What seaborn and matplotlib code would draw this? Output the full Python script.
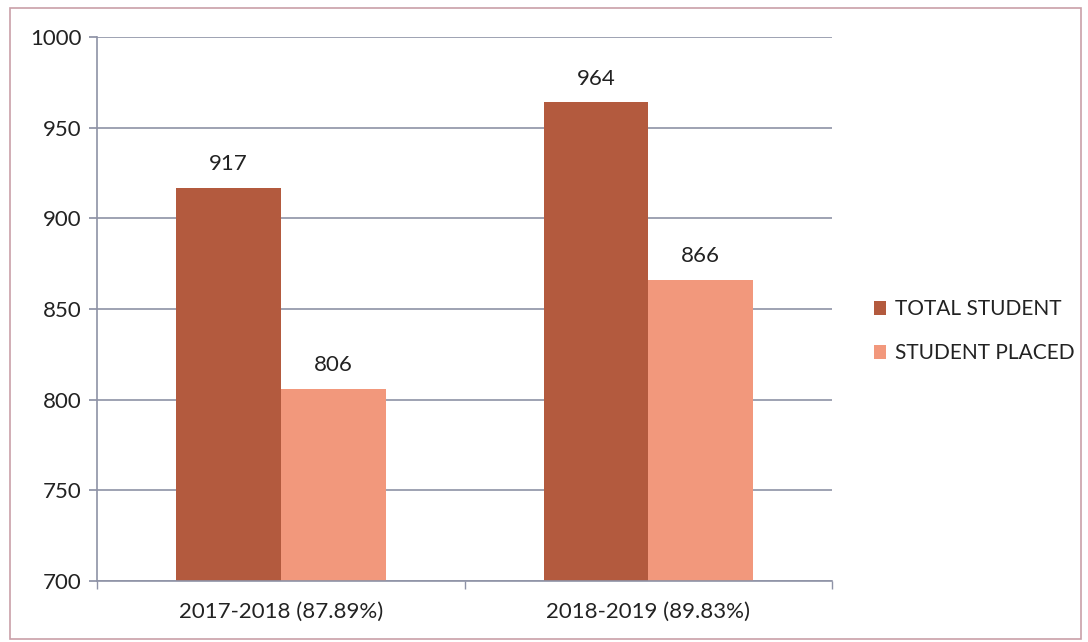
import matplotlib
matplotlib.use("Agg")
import matplotlib.pyplot as plt
import seaborn as sns
import pandas as pd
from matplotlib.patches import Rectangle

categories = ["2017-2018 (87.89%)", "2018-2019 (89.83%)"]
series_names = ["TOTAL STUDENT", "STUDENT PLACED"]
total_student = [917, 964]
student_placed = [806, 866]
yticks = [700, 750, 800, 850, 900, 950, 1000]

df = pd.DataFrame({
    "year": categories * 2,
    "series": [series_names[0]] * 2 + [series_names[1]] * 2,
    "value": total_student + student_placed,
})

sns.set_theme(style="white")
plt.rcParams["font.family"] = ["Lato", "DejaVu Sans"]

fig = plt.figure(figsize=(10.88, 6.42), dpi=100)
ax = fig.add_axes([0.089, 0.095, 0.676, 0.847])

palette = {series_names[0]: "#B35A3E", series_names[1]: "#F2987C"}
sns.barplot(data=df, x="year", y="value", hue="series", palette=palette,
            width=0.57, ax=ax, saturation=1, edgecolor="none", legend=True)

ax.set_ylim(700, 1000)
ax.set_xlim(-0.5, 1.5)
ax.set_yticks(yticks)
ax.yaxis.grid(True, color="#8E92A6", linewidth=1.2)
ax.set_axisbelow(True)
ax.set_xlabel("")
ax.set_ylabel("")

for s in ["top", "right"]:
    ax.spines[s].set_visible(False)
ax.spines["left"].set_color("#8E92A6")
ax.spines["bottom"].set_color("#8E92A6")
ax.spines["left"].set_linewidth(1.2)
ax.spines["bottom"].set_linewidth(1.2)

fs = 16
ax.tick_params(axis="y", which="major", left=True, length=6, color="#8E92A6",
               labelsize=fs, labelcolor="#222222", pad=5)
ax.tick_params(axis="x", which="major", bottom=False, labelsize=fs,
               labelcolor="#222222", pad=9)
ax.set_xticks([-0.5, 0.5, 1.5], minor=True)
ax.tick_params(axis="x", which="minor", bottom=True, length=6, color="#8E92A6")

for cont in ax.containers:
    ax.bar_label(cont, padding=10, fontsize=fs, color="#222222")

handles, labels = ax.get_legend_handles_labels()
ax.legend(handles, labels, loc="center left", bbox_to_anchor=(1.056, 0.459),
          frameon=False, fontsize=15, handlelength=0.6, handleheight=0.6,
          handletextpad=0.45, labelspacing=1.15, labelcolor="#222222",
          borderpad=0, borderaxespad=0)

fig.patches.append(Rectangle((0.009, 0.005), 0.985, 0.983, transform=fig.transFigure,
                             fill=False, edgecolor="#C9A0A8", linewidth=1.2))

fig.savefig("out.png", dpi=100)
